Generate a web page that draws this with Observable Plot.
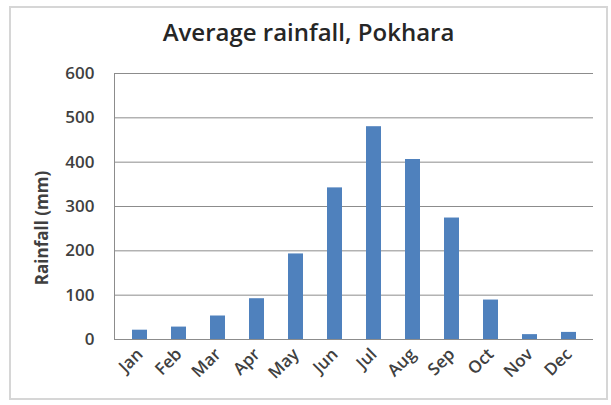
<!DOCTYPE html>
<html>
<head>
<meta charset="utf-8">
<script src="https://cdn.jsdelivr.net/npm/d3@7"></script>
<script src="https://cdn.jsdelivr.net/npm/@observablehq/plot@0.6"></script>
<style>
  html, body { margin: 0; padding: 0; background: #fff; }
  #wrap { position: relative; width: 611px; height: 405px; background: #fff; overflow: hidden; }
  #border { position: absolute; left: 9px; top: 6px; width: 595px; height: 390px; border: 2px solid #d6d6d6; box-sizing: content-box; }
  #title { position: absolute; left: 9px; width: 599px; top: 15px; text-align: center;
           font-family: "Open Sans", sans-serif; font-weight: 600; font-size: 24px; color: #262626; }
  #ylabel { position: absolute; left: 41px; top: 228px; transform: translate(-50%, -50%) rotate(-90deg);
            white-space: nowrap; font-family: "Open Sans", sans-serif; font-weight: 700; font-size: 17px; color: #404040; }
  #chart { position: absolute; left: 0; top: 0; }
</style>
</head>
<body>
<div id="wrap">
  <div id="border"></div>
  <div id="chart"></div>
  <div id="title">Average rainfall, Pokhara</div>
  <div id="ylabel">Rainfall (mm)</div>
</div>
<script>
const months = ["Jan","Feb","Mar","Apr","May","Jun","Jul","Aug","Sep","Oct","Nov","Dec"];
const rainfall = [21, 28, 53, 92, 193, 342, 480, 406, 274, 89, 11, 16];
const yTicks = [0, 100, 200, 300, 400, 500, 600];

const data = months.map((m, i) => ({month: m, rain: rainfall[i]}));

const chart = Plot.plot({
  width: 611,
  height: 405,
  marginLeft: 114,
  marginRight: 18,
  marginTop: 73,
  marginBottom: 66,
  style: {fontFamily: "'Open Sans', sans-serif", fontSize: "17px", fontWeight: 600, color: "#404040", background: "transparent"},
  x: {domain: months, paddingInner: 0.62, paddingOuter: 0.31, label: null, tickSize: 0, tickRotate: -45, tickPadding: 12},
  y: {domain: [0, 600], ticks: yTicks, label: null, tickSize: 0, tickPadding: 20},
  marks: [
    Plot.ruleY(yTicks, {stroke: "#8c8c8c", strokeWidth: 1}),
    Plot.frame({anchor: "left", stroke: "#8c8c8c"}),
    Plot.barY(data, {x: "month", y: "rain", fill: "#4f81bd"})
  ]
});
document.getElementById("chart").appendChild(chart);
</script>
</body>
</html>
